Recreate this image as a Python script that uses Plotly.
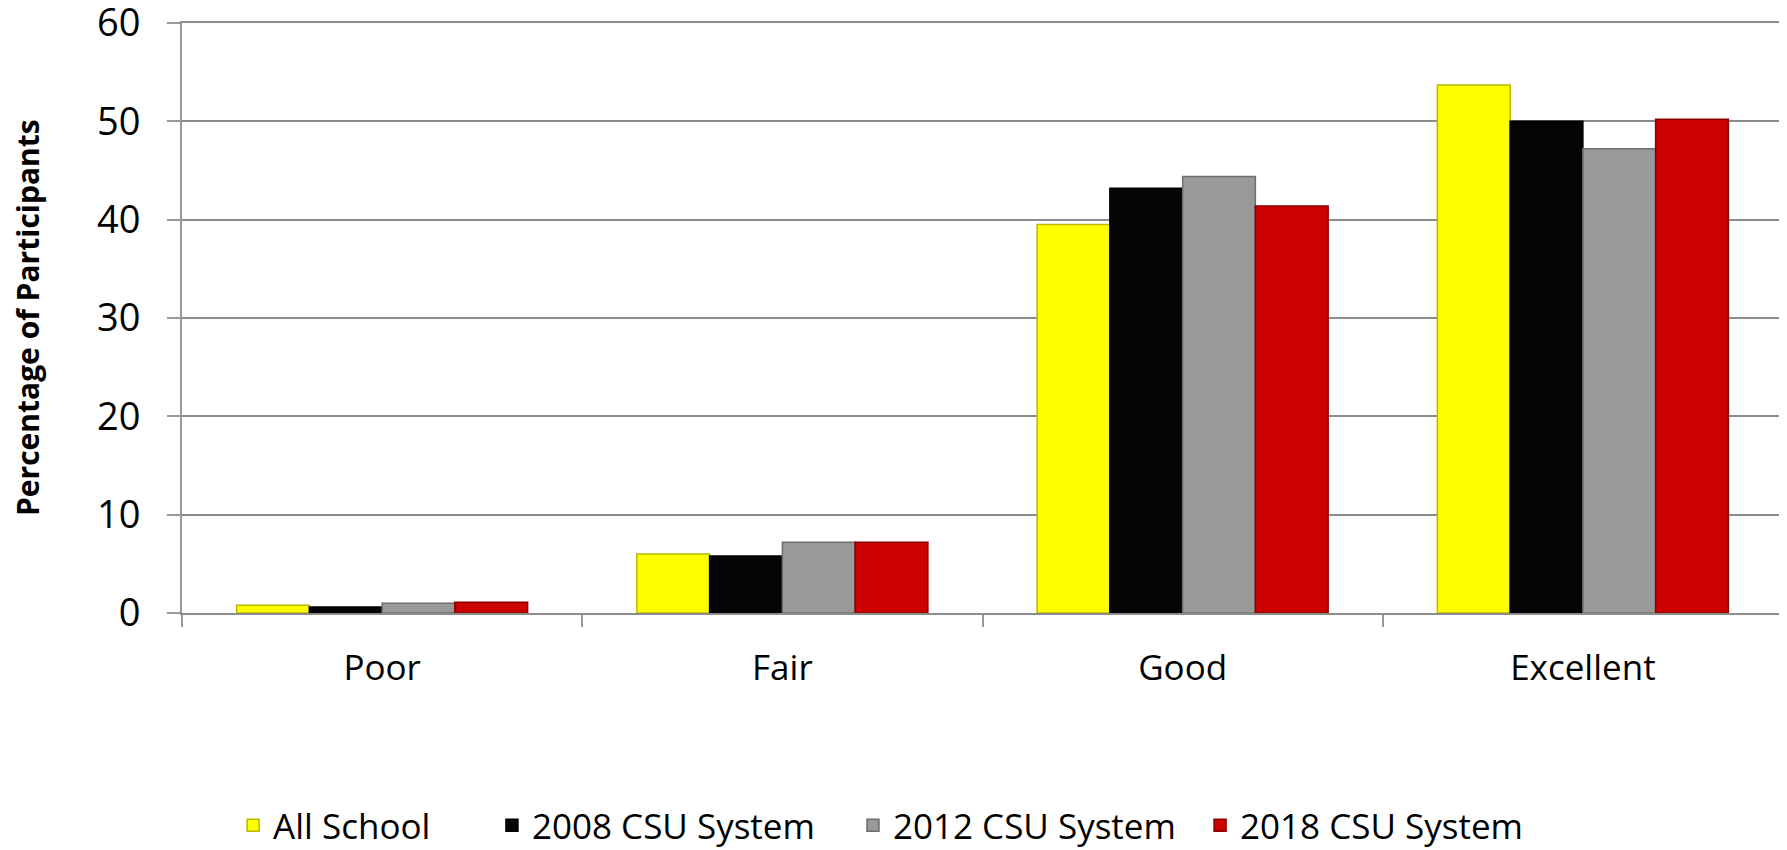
import plotly.graph_objects as go

categories = ["Poor", "Fair", "Good", "Excellent"]
series_names = ["All School", "2008 CSU System", "2012 CSU System", "2018 CSU System"]
all_school = [0.8, 6.0, 39.5, 53.7]
csu_2008 = [0.6, 5.8, 43.2, 50.0]
csu_2012 = [1.0, 7.2, 44.4, 47.2]
csu_2018 = [1.1, 7.2, 41.4, 50.2]
y_ticks = [0, 10, 20, 30, 40, 50, 60]

colors = ["#FFFF00", "#050505", "#999999", "#CC0000"]
edges = ["#B8B800", "#000000", "#6E6E6E", "#8A0000"]

# each series gets its own legend box so the entries sit where the original has them
legend_ids = ["legend", "legend2", "legend3", "legend4"]
legend_x = [0.0319, 0.1936, 0.4191, 0.6359]

fig = go.Figure()
for name, vals, c, e, lg in zip(series_names, [all_school, csu_2008, csu_2012, csu_2018],
                                colors, edges, legend_ids):
    fig.add_trace(go.Bar(
        x=categories, y=vals, name=name, legend=lg,
        marker=dict(color=c, line=dict(color=e, width=1.5)),
    ))

fig.add_annotation(
    text="<b>Percentage of Participants</b>",
    xref="paper", yref="paper",
    x=-0.0968, y=0.5, xanchor="center", yanchor="middle",
    textangle=-90, showarrow=False,
    font=dict(size=30, family="Open Sans, Noto Sans, sans-serif"),
)

legend_style = dict(
    orientation="h",
    xanchor="left",
    y=-0.36, yanchor="middle",
    font=dict(size=35),
    itemwidth=30,
    bgcolor="rgba(0,0,0,0)",
)

fig.update_layout(
    width=1779, height=842,
    barmode="group",
    bargap=0.273,
    bargroupgap=0,
    plot_bgcolor="white",
    paper_bgcolor="white",
    margin=dict(l=174, r=4, t=15, b=237, autoexpand=False),
    font=dict(family="Open Sans, Noto Sans, sans-serif", color="black"),
    showlegend=True,
    xaxis=dict(
        automargin=False,
        tickson="boundaries",
        ticks="outside",
        ticklen=12,
        tickcolor="#999999",
        tickwidth=2,
        showline=True,
        mirror=True,
        linecolor="#8C8C8C",
        linewidth=2,
        tickfont=dict(size=35),
        ticklabelstandoff=23,
    ),
    yaxis=dict(
        automargin=False,
        range=[0, 60],
        tickvals=y_ticks,
        ticks="outside",
        ticklen=13,
        tickcolor="#999999",
        tickwidth=2,
        showline=True,
        linecolor="#999999",
        linewidth=2,
        showgrid=True,
        gridcolor="#8C8C8C",
        gridwidth=2,
        zeroline=False,
        tickfont=dict(size=38),
        ticklabelstandoff=19,
        ticklabeloverflow="allow",
    ),
)
for lg, lx in zip(legend_ids, legend_x):
    fig.update_layout({lg: dict(legend_style, x=lx)})

fig.write_html("out.html")
